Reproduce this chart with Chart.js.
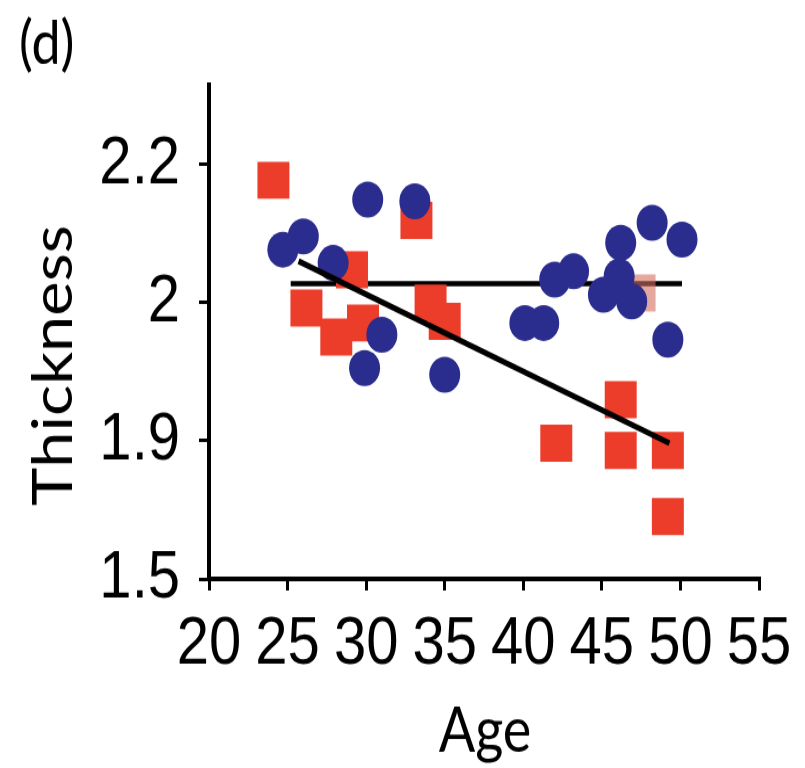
<!DOCTYPE html>
<html>
<head>
<meta charset="utf-8">
<script src="https://cdn.jsdelivr.net/npm/chart.js@4"></script>
<style>
  html, body { margin: 0; padding: 0; background: #fff; width: 805px; height: 768px; overflow: hidden; }
  /* the source figure is slightly stretched vertically */
  #wrap { width: 805px; height: 662px; transform: scaleY(1.1601); transform-origin: 0 0; }
</style>
</head>
<body>
<div id="wrap"><canvas id="chart" width="805" height="662"></canvas></div>
<script>
// y is in axis position units: 0, 1, 2, 3 are the printed ticks 1.5, 1.9, 2, 2.2
var yTickPos = [0, 1, 2, 3];
var yTickLabels = ['1.5', '1.9', '2', '2.2'];

var redAge = [24.1, 33.2, 29.1, 26.2, 28.1, 29.8, 34.1, 35.0, 47.4, 42.1, 46.2, 46.2, 49.2, 49.2];
var redThick = [2.886, 2.596, 2.239, 1.962, 1.751, 1.853, 1.998, 1.865, 2.07, 0.983, 1.297, 0.93, 0.93, 0.451];
var redFaded = [8]; // the square half hidden behind the blue dots near 47

var blueAge = [30.1, 33.1, 26.0, 24.7, 27.9, 31.0, 29.9, 35.0, 40.1, 41.3, 42.0, 43.2, 45.1, 46.2, 46.1, 46.9, 48.2, 50.1, 49.2];
var blueThick = [2.746, 2.734, 2.48, 2.384, 2.288, 1.768, 1.527, 1.478, 1.853, 1.853, 2.167, 2.227, 2.058, 2.433, 2.19, 2.009, 2.578, 2.457, 1.732];

var flatLineAge = [25.2, 50.1];
var flatLineThick = [2.138, 2.138];
var trendLineAge = [25.7, 49.3];
var trendLineThick = [2.30, 0.983];

function toPoints(xs, ys) {
    return xs.map(function(x, i) { return { x: x, y: ys[i] }; });
}

var titles = {
    id: 'titles',
    afterDraw: function(chart) {
        var ctx = chart.ctx;
        ctx.save();
        ctx.fillStyle = '#000';
        ctx.textBaseline = 'alphabetic';
        ctx.font = '52px Lato';
        ctx.textAlign = 'left';
        ctx.fillText('(d)', 19, 55);

        ctx.font = '54px Lato';
        ctx.textAlign = 'center';
        ctx.fillText('Age', 485, 648);

        ctx.translate(72, 315);
        ctx.rotate(-Math.PI / 2);
        ctx.font = '56px Lato';
        ctx.fillText('Thickness', 0, 0);
        ctx.restore();
    }
};

var tickFont = { family: '"Liberation Sans Narrow", "Liberation Sans", sans-serif', size: 58 };

function drawChart() {
    new Chart(document.getElementById('chart').getContext('2d'), {
        type: 'scatter',
        data: {
            datasets: [
                {
                    data: toPoints(trendLineAge, trendLineThick),
                    showLine: true, borderColor: '#000', borderWidth: 5,
                    pointRadius: 0, order: 0
                },
                {
                    data: toPoints(blueAge, blueThick),
                    backgroundColor: '#2b2d8e', borderWidth: 0,
                    pointStyle: 'circle', pointRadius: 15.5, order: 1
                },
                {
                    data: toPoints(redAge, redThick),
                    backgroundColor: function(c) {
                        return redFaded.indexOf(c.dataIndex) >= 0 ? 'rgba(210, 110, 95, 0.6)' : '#ec3d2a';
                    },
                    borderWidth: 0,
                    pointStyle: 'rect', pointRadius: 22.6, order: 2
                },
                {
                    data: toPoints(flatLineAge, flatLineThick),
                    showLine: true, borderColor: '#000', borderWidth: 4.5,
                    pointRadius: 0, order: 3
                }
            ]
        },
        options: {
            responsive: false,
            animation: false,
            layout: { padding: { top: 73, right: 46, left: 0, bottom: 0 } },
            plugins: { legend: { display: false }, tooltip: { enabled: false } },
            scales: {
                x: {
                    type: 'linear', min: 20, max: 55,
                    ticks: { stepSize: 5, color: '#000', font: tickFont, padding: 12, maxRotation: 0 },
                    grid: { drawOnChartArea: false, color: '#000', lineWidth: 3, tickLength: 10 },
                    border: { color: '#000', width: 4 },
                    afterFit: function(s) { s.height = 163; }
                },
                y: {
                    type: 'linear', min: 0, max: 3.578,
                    afterBuildTicks: function(s) {
                        s.ticks = yTickPos.map(function(v) { return { value: v }; });
                    },
                    ticks: {
                        color: '#000', font: tickFont, padding: 19,
                        callback: function(v) { return yTickLabels[yTickPos.indexOf(v)]; }
                    },
                    grid: { drawOnChartArea: false, color: '#000', lineWidth: 3, tickLength: 10 },
                    border: { color: '#000', width: 4 },
                    afterFit: function(s) { s.width = 209; }
                }
            }
        },
        plugins: [titles]
    });
}

Promise.all([
    document.fonts.load('56px Lato'),
    document.fonts.load('58px "Liberation Sans Narrow"')
]).then(drawChart, drawChart);
</script>
</body>
</html>
